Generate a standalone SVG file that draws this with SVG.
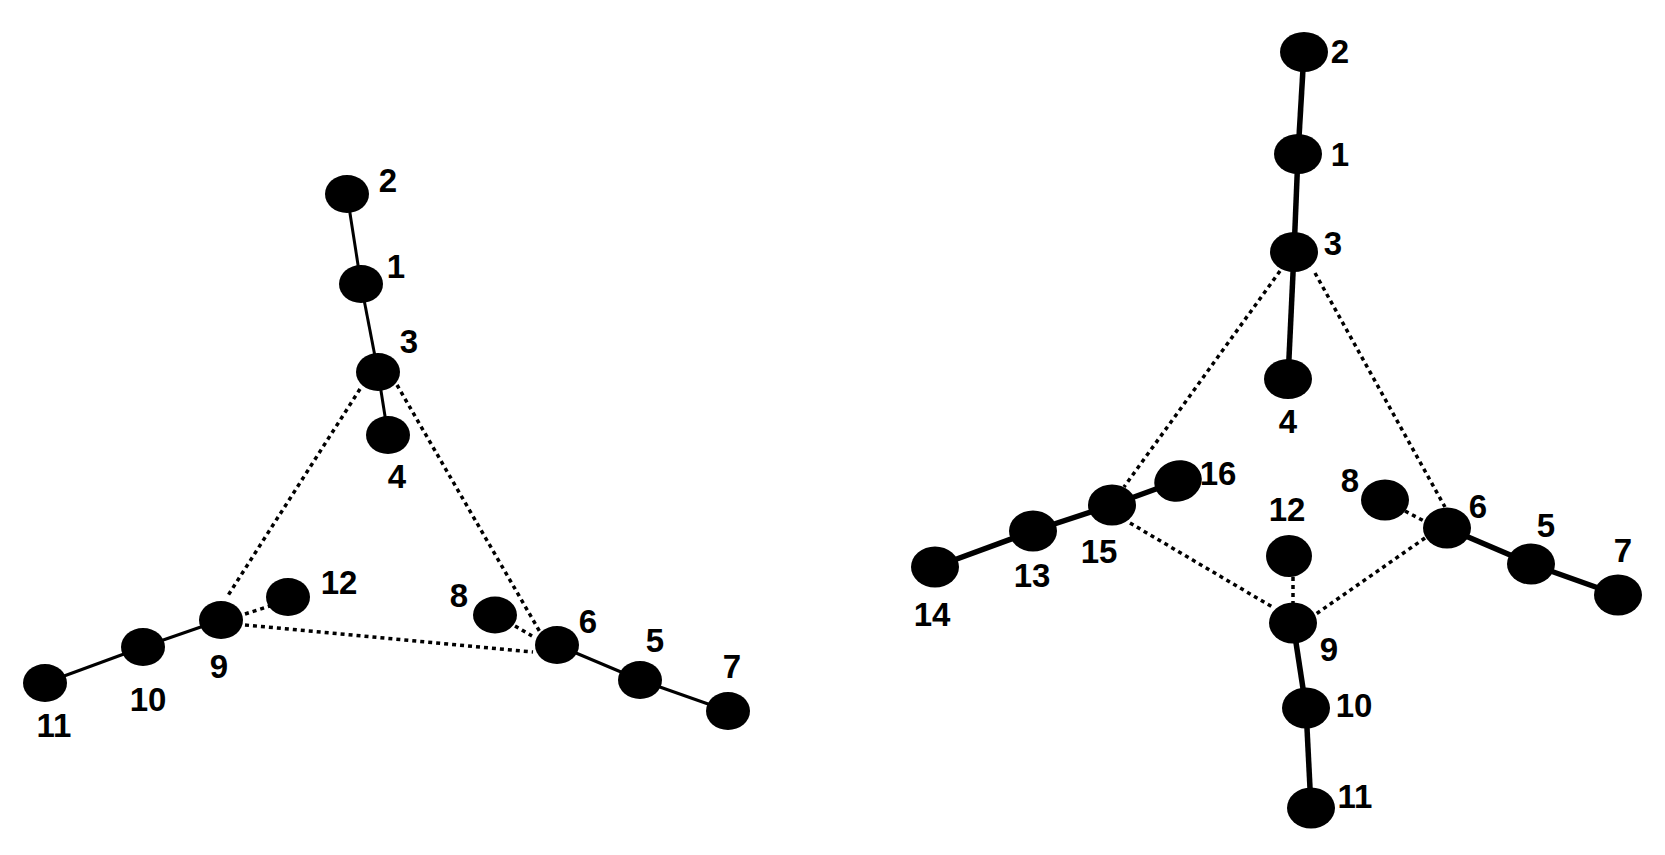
<svg xmlns="http://www.w3.org/2000/svg" width="1665" height="855" viewBox="0 0 1665 855">
<style>
.n{fill:#000}
.lbl{font-family:"Liberation Sans",Arial,sans-serif;font-weight:bold;font-size:33px;fill:#000;text-anchor:middle}
.sl{stroke:#000;stroke-width:3;fill:none}
.sr{stroke:#000;stroke-width:5.5;fill:none}
.d{stroke:#000;stroke-width:3.5;fill:none;stroke-dasharray:4 4}
</style>
<rect width="1665" height="855" fill="#fff"/>
<g id="connectors">
<line class="sl" x1="347" y1="194" x2="361" y2="284"/>
<line class="sl" x1="361" y1="284" x2="378" y2="372"/>
<line class="sl" x1="378" y1="372" x2="388" y2="435"/>
<line class="sl" x1="45" y1="683" x2="143" y2="647"/>
<line class="sl" x1="143" y1="647" x2="221" y2="620"/>
<line class="sl" x1="557" y1="645" x2="640" y2="680"/>
<line class="sl" x1="640" y1="680" x2="728" y2="711"/>
<line class="d" x1="360" y1="389" x2="227" y2="597"/>
<line class="d" x1="397" y1="385" x2="540" y2="632"/>
<line class="d" x1="245" y1="625" x2="533" y2="652"/>
<line class="d" x1="245" y1="614" x2="270" y2="606"/>
<line class="d" x1="515" y1="626" x2="532" y2="636"/>
<line class="sr" x1="1304" y1="52" x2="1298" y2="154"/>
<line class="sr" x1="1298" y1="154" x2="1294" y2="252"/>
<line class="sr" x1="1294" y1="252" x2="1288" y2="379"/>
<line class="sr" x1="935" y1="567" x2="1033" y2="531"/>
<line class="sr" x1="1033" y1="531" x2="1112" y2="505"/>
<line class="sr" x1="1112" y1="505" x2="1178" y2="481"/>
<line class="sr" x1="1447" y1="528" x2="1531" y2="564"/>
<line class="sr" x1="1531" y1="564" x2="1618" y2="595"/>
<line class="sr" x1="1293" y1="623" x2="1306" y2="708"/>
<line class="sr" x1="1306" y1="708" x2="1311" y2="808"/>
<line class="d" x1="1280" y1="271" x2="1124" y2="487"/>
<line class="d" x1="1315" y1="273" x2="1445" y2="507"/>
<line class="d" x1="1130" y1="523" x2="1274" y2="608"/>
<line class="d" x1="1425" y1="538" x2="1316" y2="614"/>
<line class="d" x1="1293" y1="577" x2="1293" y2="603"/>
<line class="d" x1="1405" y1="511" x2="1424" y2="521"/>
</g>
<g id="L2"><ellipse class="n" cx="347" cy="194" rx="22" ry="19"/><text class="lbl" x="388" y="192">2</text></g>
<g id="L1"><ellipse class="n" cx="361" cy="284" rx="22" ry="19"/><text class="lbl" x="396" y="278">1</text></g>
<g id="L3"><ellipse class="n" cx="378" cy="372" rx="22" ry="19"/><text class="lbl" x="409" y="353">3</text></g>
<g id="L4"><ellipse class="n" cx="388" cy="435" rx="22" ry="19"/><text class="lbl" x="397" y="488">4</text></g>
<g id="L11"><ellipse class="n" cx="45" cy="683" rx="22" ry="19"/><text class="lbl" x="54" y="737">11</text></g>
<g id="L10"><ellipse class="n" cx="143" cy="647" rx="22" ry="19"/><text class="lbl" x="148" y="711">10</text></g>
<g id="L9"><ellipse class="n" cx="221" cy="620" rx="22" ry="19"/><text class="lbl" x="219" y="678">9</text></g>
<g id="L12"><ellipse class="n" cx="288" cy="597" rx="22" ry="19"/><text class="lbl" x="339" y="594">12</text></g>
<g id="L8"><ellipse class="n" cx="495" cy="615" rx="22" ry="18.5"/><text class="lbl" x="459" y="607">8</text></g>
<g id="L6"><ellipse class="n" cx="557" cy="645" rx="22" ry="19"/><text class="lbl" x="588" y="633">6</text></g>
<g id="L5"><ellipse class="n" cx="640" cy="680" rx="22" ry="19"/><text class="lbl" x="655" y="652">5</text></g>
<g id="L7"><ellipse class="n" cx="728" cy="711" rx="22" ry="19"/><text class="lbl" x="732" y="678">7</text></g>
<g id="R2"><ellipse class="n" cx="1304" cy="52" rx="24" ry="20"/><text class="lbl" x="1340" y="63">2</text></g>
<g id="R1"><ellipse class="n" cx="1298" cy="154" rx="24" ry="20"/><text class="lbl" x="1340" y="166">1</text></g>
<g id="R3"><ellipse class="n" cx="1294" cy="252" rx="24" ry="20"/><text class="lbl" x="1333" y="255">3</text></g>
<g id="R4"><ellipse class="n" cx="1288" cy="379" rx="24" ry="20"/><text class="lbl" x="1288" y="433">4</text></g>
<g id="R14"><ellipse class="n" cx="935" cy="567" rx="24" ry="20.5"/><text class="lbl" x="932" y="626">14</text></g>
<g id="R13"><ellipse class="n" cx="1033" cy="531" rx="24" ry="20.5"/><text class="lbl" x="1032" y="587">13</text></g>
<g id="R15"><ellipse class="n" cx="1112" cy="505" rx="24" ry="20.5"/><text class="lbl" x="1099" y="563">15</text></g>
<g id="R16"><ellipse class="n" cx="1178" cy="481" rx="24" ry="20.5" transform="rotate(-15 1178 481)"/><text class="lbl" x="1218" y="485">16</text></g>
<g id="R12"><ellipse class="n" cx="1289" cy="556" rx="23" ry="21"/><text class="lbl" x="1287" y="521">12</text></g>
<g id="R8"><ellipse class="n" cx="1385" cy="500" rx="24" ry="20.5"/><text class="lbl" x="1350" y="492">8</text></g>
<g id="R6"><ellipse class="n" cx="1447" cy="528" rx="24" ry="20.5"/><text class="lbl" x="1478" y="518">6</text></g>
<g id="R5"><ellipse class="n" cx="1531" cy="564" rx="24" ry="20.5"/><text class="lbl" x="1546" y="537">5</text></g>
<g id="R7"><ellipse class="n" cx="1618" cy="595" rx="24" ry="20.5"/><text class="lbl" x="1623" y="562">7</text></g>
<g id="R9"><ellipse class="n" cx="1293" cy="623" rx="24" ry="20.5"/><text class="lbl" x="1329" y="661">9</text></g>
<g id="R10"><ellipse class="n" cx="1306" cy="708" rx="24" ry="20.5"/><text class="lbl" x="1354" y="717">10</text></g>
<g id="R11"><ellipse class="n" cx="1311" cy="808" rx="24" ry="20.5"/><text class="lbl" x="1355" y="808">11</text></g>
</svg>
